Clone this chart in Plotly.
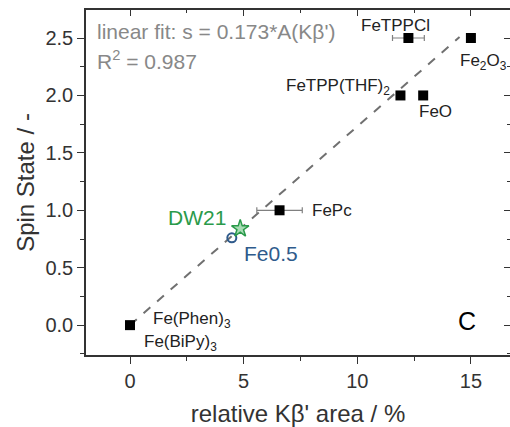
import plotly.graph_objects as go

# data
names = ["Fe(Phen)3", "FePc", "FeTPP(THF)2", "FeO", "FeTPPCl", "Fe2O3"]
area = [0.0, 6.58, 11.9, 12.9, 12.25, 15.0]
spin = [0.0, 1.0, 2.0, 2.0, 2.5, 2.5]
area_err = [0.0, 1.0, 0.0, 0.0, 0.7, 0.0]
dw21 = (4.85, 0.84)
fe05 = (4.48, 0.76)
fit_slope = 0.173
fit_x = [0.0, 14.5]

x_range = [-1.936, 16.72]
y_range = [-0.26, 2.744]

fig = go.Figure()
fig.add_trace(go.Scatter(x=fit_x, y=[fit_slope * v for v in fit_x], mode="lines",
                         line=dict(color="#707070", width=2, dash="dash"), showlegend=False))
fig.add_trace(go.Scatter(x=area, y=spin, mode="markers",
                         marker=dict(symbol="square", size=10, color="black"),
                         error_x=dict(type="data", array=area_err, color="#808080", thickness=1.2, width=3),
                         showlegend=False))
fig.add_trace(go.Scatter(x=[fe05[0]], y=[fe05[1]], mode="markers",
                         marker=dict(symbol="circle-open", size=9, color="#2f5b8c", line=dict(width=2)),
                         showlegend=False))
fig.add_trace(go.Scatter(x=[dw21[0]], y=[dw21[1]], mode="markers",
                         marker=dict(symbol="star", size=13, color="#a8dcb4", line=dict(width=1.5, color="#2a9a4a")),
                         showlegend=False))
# invisible trace to hold the mirrored (top/right) axes with inward ticks
fig.add_trace(go.Scatter(x=[area[0]], y=[spin[0]], xaxis="x2", yaxis="y2", mode="markers",
                         marker=dict(opacity=0), hoverinfo="skip", showlegend=False))

lab = dict(size=17, color="#222")
ann = [
    dict(x=12.25, y=2.5, text="FeTPPCl", xanchor="center", yanchor="middle", xshift=-13, yshift=13, font=lab),
    dict(x=15.0, y=2.5, text="Fe<sub>2</sub>O<sub>3</sub>", xanchor="center", yanchor="middle", yshift=-24, xshift=13, font=lab),
    dict(x=11.9, y=2.0, text="FeTPP(THF)<sub>2</sub>", xanchor="right", yanchor="middle", xshift=-8, yshift=8, font=lab),
    dict(x=12.9, y=2.0, text="FeO", xanchor="left", yanchor="middle", xshift=-6, yshift=-16, font=lab),
    dict(x=6.58, y=1.0, text="FePc", xanchor="left", yanchor="middle", xshift=30, font=lab),
    dict(x=0.0, y=0.0, text="Fe(Phen)<sub>3</sub>", xanchor="left", yanchor="middle", xshift=21, yshift=5, font=lab),
    dict(x=0.0, y=0.0, text="Fe(BiPy)<sub>3</sub>", xanchor="left", yanchor="middle", xshift=12, yshift=-18, font=lab),
    dict(x=dw21[0], y=dw21[1], text="DW21", xanchor="right", yanchor="middle", xshift=-12, yshift=11,
         font=dict(size=21, color="#2a9a4a")),
    dict(x=fe05[0], y=fe05[1], text="Fe0.5", xanchor="left", yanchor="middle", xshift=10, yshift=-16,
         font=dict(size=21, color="#2f5b8c")),
    dict(x=0.021, y=0.939, xref="paper", yref="paper", text="linear fit: s = 0.173*A(Kβ')",
         xanchor="left", yanchor="middle", font=dict(size=21, color="#888")),
    dict(x=0.021, y=0.855, xref="paper", yref="paper", text="R<sup>2</sup> = 0.987",
         xanchor="left", yanchor="middle", font=dict(size=21, color="#888")),
    dict(x=14.83, y=0.04, text="C", xanchor="center", yanchor="middle", font=dict(size=25, color="black")),
]
for a in ann:
    a["showarrow"] = False
    fig.add_annotation(**a)

axis_common = dict(showline=True, linecolor="#333", linewidth=1.5, mirror=True,
                   ticks="outside", ticklen=7, tickwidth=1.2, tickcolor="#333",
                   showgrid=False, zeroline=False, automargin=False,
                   tickfont=dict(size=20, color="#333"))
fig.update_xaxes(range=x_range, tick0=0, dtick=5,
                 minor=dict(ticks="outside", ticklen=4, dtick=2.5, tick0=0, tickcolor="#333"),
                 title=dict(text="relative Kβ' area / %", font=dict(size=24, color="#333"), standoff=18),
                 **axis_common)
fig.update_yaxes(range=y_range, tick0=0, dtick=0.5, tickformat=".1f",
                 minor=dict(ticks="outside", ticklen=4, dtick=0.25, tick0=0, tickcolor="#333"),
                 title=dict(text="Spin State / -", font=dict(size=24, color="#333"), standoff=4),
                 **axis_common)
mirror_common = dict(showline=False, ticks="inside", ticklen=6, tickwidth=1.2, tickcolor="#333",
                     showticklabels=False, showgrid=False, zeroline=False, automargin=False)
fig.update_layout(
    xaxis2=dict(overlaying="x", side="top", anchor="y2", range=x_range, tick0=0, dtick=5,
                minor=dict(ticks="inside", ticklen=3, dtick=2.5, tick0=0, tickcolor="#333"), **mirror_common),
    yaxis2=dict(overlaying="y", side="right", anchor="x2", range=y_range, tick0=0, dtick=0.5,
                minor=dict(ticks="inside", ticklen=3, dtick=0.25, tick0=0, tickcolor="#333"), **mirror_common),
)
fig.update_layout(width=510, height=427, margin=dict(l=86, r=0, t=10, b=72),
                  plot_bgcolor="white", paper_bgcolor="white",
                  font=dict(family="Arial, Liberation Sans, sans-serif"), showlegend=False)
fig.write_html("out.html")
